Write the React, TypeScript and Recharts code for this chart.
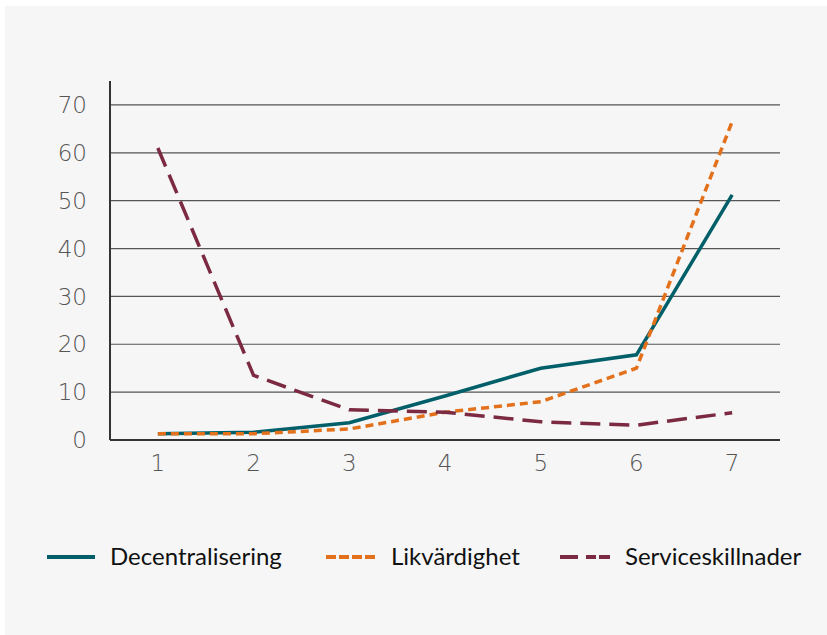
import React from 'react';
import { LineChart, Line, XAxis, YAxis, CartesianGrid } from 'recharts';

const categories = ['1', '2', '3', '4', '5', '6', '7'];
const decentralisering = [1.3, 1.6, 3.6, 9.2, 15.0, 17.8, 51.2];
const likvardighet = [1.3, 1.3, 2.3, 5.8, 8.0, 15.0, 66.5];
const serviceskillnader = [61.0, 13.5, 6.3, 5.8, 3.8, 3.1, 5.7];
const yTicks = [0, 10, 20, 30, 40, 50, 60, 70];

const series = [
    { key: 'Decentralisering', color: '#005f69', dash: undefined as string | undefined },
    { key: 'Likvärdighet', color: '#e3701a', dash: '8 5' },
    { key: 'Serviceskillnader', color: '#7b2a42', dash: '20 9' },
];

const data = categories.map((c, i) => ({
    name: c,
    Decentralisering: decentralisering[i],
    'Likvärdighet': likvardighet[i],
    Serviceskillnader: serviceskillnader[i],
}));

const tickStyle = { fill: '#555', fontSize: 23, fontFamily: '"DejaVu Sans", sans-serif', fontWeight: 200 };

function ChartLegend() {
    // legend icons drawn as short lines, positions matched to the reference (box coords)
    const items = [
        { ...series[0], x: 42, w: 48, text: 105 },
        { ...series[1], x: 321, w: 49, text: 386, dash: '10 3' },
        { ...series[2], x: 555, w: 50, text: 620, dash: '18 8 10 3 11' },
    ];
    return (
        <svg width={822} height={40} style={{ position: 'absolute', left: 0, top: 531 }}>
            {items.map(it => (
                <g key={it.key}>
                    <line x1={it.x} x2={it.x + it.w} y1={20} y2={20} stroke={it.color} strokeWidth={4} strokeDasharray={it.dash} />
                    <text x={it.text} y={28} fontSize={24} fontFamily="Lato, sans-serif" fill="#111">{it.key}</text>
                </g>
            ))}
        </svg>
    );
}

export default function App() {
    return (
        <div style={{ position: 'absolute', left: 0, top: 0, width: 827, height: 635, background: '#fff' }}>
            <div style={{ position: 'absolute', left: 5, top: 6, width: 822, height: 629, background: '#f6f6f6' }}>
                <LineChart
                    width={822}
                    height={629}
                    data={data}
                    margin={{ top: 75, right: 47, left: 0, bottom: 0 }}
                >
                    <CartesianGrid vertical={false} horizontalValues={yTicks} stroke="#555" strokeWidth={1.2} />
                    <XAxis
                        dataKey="name"
                        scale="band"
                        axisLine={{ stroke: '#333', strokeWidth: 2 }}
                        tickLine={false}
                        tick={tickStyle}
                        tickMargin={9}
                        height={195}
                    />
                    <YAxis
                        domain={[0, 75]}
                        ticks={yTicks}
                        axisLine={{ stroke: '#333', strokeWidth: 2 }}
                        tickLine={false}
                        tick={tickStyle}
                        tickMargin={17}
                        width={105}
                        interval={0}
                    />
                    {series.map(s => (
                        <Line
                            key={s.key}
                            type="linear"
                            dataKey={s.key}
                            stroke={s.color}
                            strokeWidth={3.5}
                            strokeDasharray={s.dash}
                            dot={false}
                            activeDot={false}
                            isAnimationActive={false}
                        />
                    ))}
                </LineChart>
                <ChartLegend />
            </div>
        </div>
    );
}
